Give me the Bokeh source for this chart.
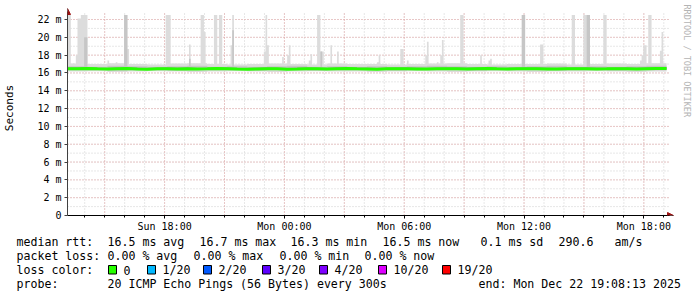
import math
from datetime import datetime, timedelta

from bokeh.plotting import figure
from bokeh.layouts import column
from bokeh.core.properties import value
from bokeh.models import (Range1d, FixedTicker, DatetimeTickFormatter, CustomJSTickFormatter,
                          Label, Arrow, NormalHead, ColumnDataSource)
from bokeh.embed import file_html
from bokeh.resources import INLINE

# ------------------------------------------------------------------ data
END_TIME = datetime(2025, 12, 22, 19, 8, 13)
HOURS_SHOWN = 30
STEP_SECONDS = 300
Y_MAX = 22.45
DAY_OF = {"Sun": 21, "Mon": 22}

# light smoke band (ms), one value per hour from the start of the graph
band_top_hourly = [17.05, 17.0, 17.1, 17.0, 16.95, 17.05, 17.1, 17.0, 16.95, 17.0,
                   17.05, 17.0, 16.95, 17.05, 17.0, 17.0, 16.95, 17.0, 17.05, 17.1,
                   17.0, 16.95, 17.0, 17.0, 17.05, 16.95, 17.0, 17.05, 17.0, 17.1]
band_bottom_hourly = [16.15, 16.2, 16.1, 16.15, 16.2, 16.15, 16.1, 16.15, 16.2, 16.15,
                      16.1, 16.15, 16.2, 16.15, 16.15, 16.1, 16.15, 16.2, 16.15, 16.1,
                      16.15, 16.2, 16.15, 16.1, 16.15, 16.15, 16.2, 16.15, 16.1, 16.15]
# denser smoke around the median
inner_top_hourly = [16.75, 16.7, 16.8, 16.75, 16.7, 16.75, 16.8, 16.7, 16.75, 16.7,
                    16.75, 16.8, 16.7, 16.75, 16.7, 16.75, 16.7, 16.75, 16.8, 16.75,
                    16.7, 16.75, 16.7, 16.75, 16.8, 16.7, 16.75, 16.7, 16.75, 16.8]
inner_bottom_hourly = [16.3, 16.3, 16.25, 16.3, 16.3, 16.25, 16.3, 16.3, 16.3, 16.25,
                       16.3, 16.3, 16.25, 16.3, 16.3, 16.3, 16.25, 16.3, 16.3, 16.3,
                       16.25, 16.3, 16.3, 16.3, 16.25, 16.3, 16.3, 16.25, 16.3, 16.3]

# median rtt (ms) every 30 minutes from the start of the graph
median_rtt = [16.48, 16.47, 16.5, 16.46, 16.44, 16.47, 16.49, 16.45, 16.43, 16.46,
              16.48, 16.45, 16.47, 16.44, 16.46, 16.49, 16.47, 16.44, 16.42, 16.45,
              16.47, 16.46, 16.43, 16.45, 16.48, 16.46, 16.44, 16.47, 16.49, 16.46,
              16.45, 16.43, 16.46, 16.48, 16.47, 16.45, 16.44, 16.46, 16.48, 16.47,
              16.45, 16.47, 16.49, 16.46, 16.44, 16.46, 16.48, 16.47, 16.45, 16.44,
              16.46, 16.48, 16.47, 16.45, 16.46, 16.48, 16.47, 16.45, 16.47, 16.49,
              16.5]

# isolated high pings (smoke spikes)
spike_time = ["Sun 13:12", "Sun 13:27", "Sun 13:35", "Sun 13:41", "Sun 13:51", "Sun 14:02",
              "Sun 15:11", "Sun 15:36", "Sun 16:03", "Sun 16:12", "Sun 18:05", "Sun 19:15",
              "Sun 19:49", "Sun 19:59", "Sun 20:33", "Sun 20:47", "Sun 21:21", "Sun 21:27",
              "Sun 22:59", "Sun 23:04", "Sun 23:10", "Sun 23:57", "Mon 00:11", "Mon 00:17",
              "Mon 01:15", "Mon 01:21", "Mon 01:43", "Mon 01:53", "Mon 01:58", "Mon 02:19",
              "Mon 02:39", "Mon 04:42", "Mon 04:47", "Mon 05:49", "Mon 06:11", "Mon 07:05",
              "Mon 07:10", "Mon 07:41", "Mon 07:51", "Mon 07:56", "Mon 08:49", "Mon 09:49",
              "Mon 10:17", "Mon 10:22", "Mon 11:55", "Mon 12:49", "Mon 14:25", "Mon 15:01",
              "Mon 15:11", "Mon 15:59", "Mon 17:49", "Mon 17:54", "Mon 18:03", "Mon 18:17",
              "Mon 18:49", "Mon 18:54"]
spike_samples = [2, 1, 1, 2, 2, 2,
                 1, 1, 2, 1, 3, 1,
                 2, 1, 2, 2, 1, 1,
                 1, 1, 1, 1, 1, 1,
                 1, 1, 2, 1, 1, 1,
                 1, 1, 1, 2, 1, 1,
                 1, 1, 1, 1, 2, 1,
                 1, 1, 2, 2, 2, 2,
                 2, 2, 1, 1, 2, 2,
                 1, 1]
spike_max = [22.5, 17.1, 18.0, 22.1, 22.5, 22.5,
             17.4, 17.2, 22.5, 18.7, 22.5, 19.2,
             22.5, 20.6, 22.5, 22.5, 19.1, 22.5,
             18.4, 22.5, 19.1, 17.8, 18.0, 19.1,
             17.4, 18.1, 22.5, 18.4, 18.4, 19.1,
             18.4, 17.2, 18.0, 18.7, 17.4, 18.0,
             19.5, 17.2, 18.0, 19.7, 22.5, 18.0,
             17.4, 17.6, 22.5, 19.2, 22.5, 22.5,
             22.5, 22.5, 17.4, 18.0, 19.1, 22.5,
             18.5, 20.6]
spike_dense = [None, None, None, None, None, 20.0,
               None, None, 22.5, None, None, 17.6,
               None, None, None, None, None, 20.8,
               None, None, None, None, None, None,
               None, None, None, 18.4, None, None,
               None, None, None, None, None, None,
               None, None, None, None, None, None,
               None, None, 22.5, None, None, None,
               22.5, None, None, None, None, None,
               None, None]

x_tick_labels = ["Sun 18:00", "Mon 00:00", "Mon 06:00", "Mon 12:00", "Mon 18:00"]
y_tick_values = [0, 2, 4, 6, 8, 10, 12, 14, 16, 18, 20, 22]

legend_rtt = ["median rtt:", "16.5 ms avg", "16.7 ms max", "16.3 ms min", "16.5 ms now",
              "0.1 ms sd", "290.6", "am/s"]
legend_loss = ["packet loss:", "0.00 % avg", "0.00 % max", "0.00 % min", "0.00 % now"]
legend_color_title = "loss color:"
loss_labels = ["0", "1/20", "2/20", "3/20", "4/20", "10/20", "19/20"]
loss_colors = ["#26ff00", "#00b8ff", "#0059ff", "#5e00ff", "#7e00ff", "#dd00ff", "#ff0000"]
legend_probe = ["probe:", "20 ICMP Echo Pings (56 Bytes) every 300s", "end: Mon Dec 22 19:08:13 2025"]
watermark = "RRDTOOL / TOBI OETIKER"

# ------------------------------------------------------------------ helpers
EPOCH = datetime(1970, 1, 1)
START_TIME = END_TIME - timedelta(hours=HOURS_SHOWN)
NBSP = "\u00a0"


def keep_spaces(s):
    # SVG collapses runs of blanks; keep the monospace column layout
    return s.replace(" ", NBSP)


def to_ms(dt):
    return (dt - EPOCH).total_seconds() * 1000.0


def parse_when(s):
    d, hm = s.split()
    h, m = hm.split(":")
    return datetime(2025, 12, DAY_OF[d], int(h), int(m))


START_MS = to_ms(START_TIME)
END_MS = to_ms(END_TIME)

# canvas layout (rrdtool style): graph area 66..666 x 15..215
W = 697
CHART_H = 234
LEG_H = 297 - CHART_H
GX0, GX1, GY0, GY1 = 66, 666, 15, 215
PX_MS = (END_MS - START_MS) / (GX1 - GX0)        # ms per pixel
PX_V = Y_MAX / (GY1 - GY0)                        # value per pixel


def px_x(px):
    return START_MS + (px - GX0) * PX_MS


def px_y(py):
    return (GY1 - py) * PX_V


# ------------------------------------------------------------------ step table
n_steps = int(HOURS_SHOWN * 3600 // STEP_SECONDS)
edges = [START_MS + k * STEP_SECONDS * 1000.0 for k in range(n_steps + 1)]
per_hour = 3600 // STEP_SECONDS
light_top = [band_top_hourly[k // per_hour] for k in range(n_steps)]
light_bot = [band_bottom_hourly[k // per_hour] for k in range(n_steps)]
dense_top = [inner_top_hourly[k // per_hour] for k in range(n_steps)]
dense_bot = [inner_bottom_hourly[k // per_hour] for k in range(n_steps)]

for t, ns, mx, dn in zip(spike_time, spike_samples, spike_max, spike_dense):
    idx = int((parse_when(t) - START_TIME).total_seconds() // STEP_SECONDS)
    for j in range(ns):
        i = idx + j
        if 0 <= i < n_steps:
            light_top[i] = max(light_top[i], mx)
            if dn is not None:
                dense_top[i] = max(dense_top[i], dn)


def close(vals):
    return vals + [vals[-1]]


smoke = ColumnDataSource(dict(x=edges, lt=close(light_top), lb=close(light_bot),
                              dt=close(dense_top), db=close(dense_bot)))
med_x = [START_MS + i * 1800 * 1000.0 for i in range(len(median_rtt))]
med = ColumnDataSource(dict(x=med_x, y=median_rtt,
                            lo=[v - 0.1 for v in median_rtt], hi=[v + 0.13 for v in median_rtt]))

# ------------------------------------------------------------------ chart figure
p = figure(width=W, height=CHART_H, x_axis_type="datetime", output_backend="svg",
           toolbar_location=None, title=None,
           x_range=Range1d(px_x(GX0), px_x(W)), y_range=Range1d(0, px_y(0)),
           min_border_left=GX0, min_border_right=0, min_border_top=0,
           min_border_bottom=CHART_H - GY1)
p.outline_line_color = None
p.background_fill_color = "white"
p.border_fill_color = "white"

hour_ms = 3600 * 1000.0
first_hour = math.ceil(START_MS / hour_ms) * hour_ms
hours = [first_hour + k * hour_ms for k in range(HOURS_SHOWN + 1) if first_hour + k * hour_ms <= END_MS]
three_h = [h for h in hours if round(h / hour_ms) % 3 == 0]
label_ticks = [to_ms(parse_when(s)) for s in x_tick_labels]
y_minor = list(range(0, 23))

MAJ_COL, MIN_COL, DASH = "#e8a6a6", "#cfcfcf", "1 2"
grid_end_x = END_MS + 2 * PX_MS
grid_top_y = px_y(13)

p.xgrid.visible = False
p.ygrid.visible = False
# grid drawn from the tick values, limited to the graph area
p.segment(x0=hours, x1=hours, y0=[0] * len(hours), y1=[grid_top_y] * len(hours),
          line_color=MIN_COL, line_dash=DASH, line_width=1)
p.segment(x0=[START_MS] * len(y_minor), x1=[grid_end_x] * len(y_minor), y0=y_minor, y1=y_minor,
          line_color=MIN_COL, line_dash=DASH, line_width=1)
p.segment(x0=three_h, x1=three_h, y0=[0] * len(three_h), y1=[grid_top_y] * len(three_h),
          line_color=MAJ_COL, line_dash=DASH, line_width=1)
p.segment(x0=[START_MS] * len(y_tick_values), x1=[grid_end_x] * len(y_tick_values),
          y0=y_tick_values, y1=y_tick_values, line_color=MAJ_COL, line_dash=DASH, line_width=1)

# axes
xa = p.xaxis[0]
xa.ticker = FixedTicker(ticks=label_ticks, minor_ticks=hours)
fmt = "%a %H:%M"
xa.formatter = DatetimeTickFormatter(hours=fmt, hourmin=fmt, days=fmt, minutes=fmt, minsec=fmt,
                                     seconds=fmt, months=fmt, years=fmt)
xa.bounds = (START_MS - 4 * PX_MS, END_MS + 3 * PX_MS)
xa.axis_line_color = "black"
xa.major_tick_out = 3
xa.major_tick_in = 0
xa.minor_tick_out = 2
xa.minor_tick_in = 0
xa.major_tick_line_color = "black"
xa.minor_tick_line_color = "black"
xa.major_label_standoff = 2
xa.major_label_text_font = "DejaVu Sans Mono"
xa.major_label_text_font_size = "10px"
xa.major_label_text_color = "black"

ya = p.yaxis[0]
ya.ticker = FixedTicker(ticks=y_tick_values, minor_ticks=[])
ya.formatter = CustomJSTickFormatter(code="return tick == 0 ? '0' : tick.toFixed(0) + ' m';")
ya.bounds = (0, px_y(11))
ya.axis_line_color = "#404040"
ya.major_tick_out = 3
ya.major_tick_in = 0
ya.major_tick_line_color = "#404040"
ya.major_label_standoff = 3
ya.major_label_text_font = "DejaVu Sans Mono"
ya.major_label_text_font_size = "10px"
ya.major_label_text_color = "black"
ya.axis_label = "Seconds"
ya.axis_label_text_font = "DejaVu Sans Mono"
ya.axis_label_text_font_size = "11px"
ya.axis_label_text_font_style = "normal"
ya.axis_label_text_color = "black"
ya.axis_label_standoff = 18

# smoke and median
p.varea_step(x="x", y1="lb", y2="lt", step_mode="after", source=smoke, fill_color="#dcdcdc")
p.varea_step(x="x", y1="db", y2="dt", step_mode="after", source=smoke, fill_color="#c6c6c6")
p.varea(x="x", y1="lo", y2="hi", source=med, fill_color="#8c8c8c")
p.line(x="x", y="y", source=med, line_color=loss_colors[0], line_width=3)

# axis arrows
ARROW = "#9b1010"
p.add_layout(Arrow(end=NormalHead(size=6, fill_color=ARROW, line_color=ARROW), line_color="black",
                   x_start=END_MS + 2 * PX_MS, y_start=0, x_end=END_MS + 7 * PX_MS, y_end=0))
p.add_layout(Arrow(end=NormalHead(size=6, fill_color=ARROW, line_color=ARROW), line_color="#404040",
                   x_start=START_MS, y_start=px_y(12), x_end=START_MS, y_end=px_y(8)))

# watermark
p.add_layout(Label(x=px_x(686.5), y=px_y(4), text=keep_spaces(watermark), angle=-math.pi / 2,
                   text_font="DejaVu Sans Mono", text_font_size="8.5px", text_color="#b4b4b4",
                   text_align="left", text_baseline="middle"))

# ------------------------------------------------------------------ legend figure
q = figure(width=W, height=LEG_H, output_backend="svg", toolbar_location=None, title=None,
           x_range=Range1d(0, W), y_range=Range1d(297, CHART_H),
           x_axis_type=None, y_axis_type=None,
           min_border_left=0, min_border_right=0, min_border_top=0, min_border_bottom=0)
q.outline_line_color = None
q.xgrid.visible = False
q.ygrid.visible = False
q.background_fill_color = "white"
q.border_fill_color = "white"

for fig in (p, q):
    if "frame_align" in fig.properties():
        fig.frame_align = False

FONT = value("DejaVu Sans Mono")
FS = value("11.6px")
ROW_Y = [241, 255.5, 269.5, 283.5]
rtt_x = [16, 107, 199, 290, 382, 480, 558, 614]
loss_x = [16, 107, 193, 279, 364]
probe_x = [16, 107, 478]
box_x = [108, 147, 203, 262, 319, 378, 442]

texts, tx, ty = [], [], []
for row, xs, y in ((legend_rtt, rtt_x, ROW_Y[0]), (legend_loss, loss_x, ROW_Y[1]),
                   ([legend_color_title], [16], ROW_Y[2]), (legend_probe, probe_x, ROW_Y[3])):
    for s, x in zip(row, xs):
        texts.append(keep_spaces(s))
        tx.append(x)
        ty.append(y)
for lab, bx in zip(loss_labels, box_x):
    texts.append(lab)
    tx.append(bx + 15)
    ty.append(ROW_Y[2])

q.text(x=tx, y=ty, text=texts, text_font=FONT, text_font_size=FS, text_color="black",
       text_align="left", text_baseline="middle")
q.quad(left=box_x, right=[b + 8 for b in box_x], top=[265] * len(box_x), bottom=[273.5] * len(box_x),
       fill_color=loss_colors, line_color="black", line_width=1)

layout = column(p, q, spacing=0)
open("out.html", "w").write(file_html(layout, INLINE))
